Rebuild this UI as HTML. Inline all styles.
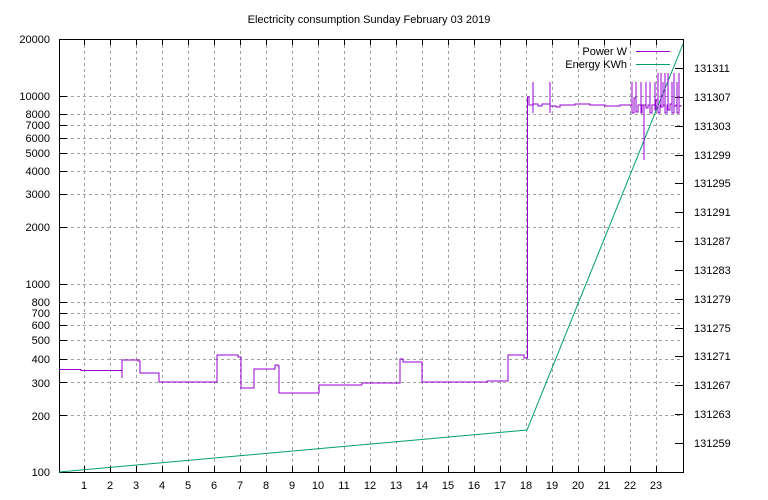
<!DOCTYPE html>
<html><head><meta charset="utf-8"><style>
html,body{margin:0;padding:0;background:#fff}
svg{display:block}
text{font-family:"Liberation Sans","DejaVu Sans",sans-serif;font-size:11px;fill:#000}
</style></head><body>
<svg width="768" height="500" viewBox="0 0 768 500">
<text x="369" y="23" text-anchor="middle">Electricity consumption Sunday February 03 2019</text>
<g stroke="#a0a0a0" stroke-width="1" stroke-dasharray="3,3" fill="none">
<path d="M84.5,39V472M110.5,39V472M136.5,39V472M162.5,39V472M188.5,39V472M214.5,39V472M240.5,39V472M266.5,39V472M292.5,39V472M318.5,39V472M344.5,39V472M370.5,39V472M396.5,39V472M422.5,39V472M448.5,39V472M474.5,39V472M500.5,39V472M526.5,39V472M552.5,39V472M578.5,39V472M604.5,39V472M630.5,39V472M656.5,39V472"/>
<path d="M59,415.5H683M59,382.5H683M59,359.5H683M59,340.5H683M59,325.5H683M59,313.5H683M59,302.5H683M59,284.5H683M59,227.5H683M59,194.5H683M59,171.5H683M59,153.5H683M59,138.5H683M59,125.5H683M59,114.5H683M59,96.5H683"/>
</g>
<rect x="59.5" y="39.5" width="624" height="433" fill="none" stroke="#000"/>
<g stroke="#000" fill="none">
<path d="M59,415.5h8M59,382.5h8M59,359.5h8M59,340.5h8M59,325.5h8M59,313.5h8M59,302.5h8M59,284.5h8M59,227.5h8M59,194.5h8M59,171.5h8M59,153.5h8M59,138.5h8M59,125.5h8M59,114.5h8M59,96.5h8"/>
<path d="M84.5,472v-6M110.5,472v-6M136.5,472v-6M162.5,472v-6M188.5,472v-6M214.5,472v-6M240.5,472v-6M266.5,472v-6M292.5,472v-6M318.5,472v-6M344.5,472v-6M370.5,472v-6M396.5,472v-6M422.5,472v-6M448.5,472v-6M474.5,472v-6M500.5,472v-6M526.5,472v-6M552.5,472v-6M578.5,472v-6M604.5,472v-6M630.5,472v-6M656.5,472v-6"/>
<path d="M84.5,39v6M110.5,39v6M136.5,39v6M162.5,39v6M188.5,39v6M214.5,39v6M240.5,39v6M266.5,39v6M292.5,39v6M318.5,39v6M344.5,39v6M370.5,39v6M396.5,39v6M422.5,39v6M448.5,39v6M474.5,39v6M500.5,39v6M526.5,39v6M552.5,39v6M578.5,39v6M604.5,39v6M630.5,39v6M656.5,39v6"/>
<path d="M683,443.5h-8M683,414.5h-8M683,385.5h-8M683,356.5h-8M683,328.5h-8M683,299.5h-8M683,270.5h-8M683,241.5h-8M683,212.5h-8M683,183.5h-8M683,155.5h-8M683,126.5h-8M683,97.5h-8M683,68.5h-8"/>
</g>
<g text-anchor="end">
<text x="50" y="476">100</text><text x="50" y="420">200</text><text x="50" y="387">300</text><text x="50" y="363">400</text><text x="50" y="344">500</text><text x="50" y="329">600</text><text x="50" y="317">700</text><text x="50" y="306">800</text><text x="50" y="288">1000</text><text x="50" y="231">2000</text><text x="50" y="198">3000</text><text x="50" y="175">4000</text><text x="50" y="157">5000</text><text x="50" y="142">6000</text><text x="50" y="129">7000</text><text x="50" y="118">8000</text><text x="50" y="100">10000</text><text x="50" y="43">20000</text>
</g>
<g text-anchor="middle">
<text x="84" y="489">1</text><text x="110" y="489">2</text><text x="136" y="489">3</text><text x="162" y="489">4</text><text x="188" y="489">5</text><text x="214" y="489">6</text><text x="240" y="489">7</text><text x="266" y="489">8</text><text x="292" y="489">9</text><text x="318" y="489">10</text><text x="344" y="489">11</text><text x="370" y="489">12</text><text x="396" y="489">13</text><text x="422" y="489">14</text><text x="448" y="489">15</text><text x="474" y="489">16</text><text x="500" y="489">17</text><text x="526" y="489">18</text><text x="552" y="489">19</text><text x="578" y="489">20</text><text x="604" y="489">21</text><text x="630" y="489">22</text><text x="656" y="489">23</text>
</g>
<g>
<text x="694" y="447">131259</text><text x="694" y="418">131263</text><text x="694" y="389">131267</text><text x="694" y="360">131271</text><text x="694" y="332">131275</text><text x="694" y="303">131279</text><text x="694" y="274">131283</text><text x="694" y="245">131287</text><text x="694" y="216">131291</text><text x="694" y="187">131295</text><text x="694" y="159">131299</text><text x="694" y="130">131303</text><text x="694" y="101">131307</text><text x="694" y="72">131311</text>
</g>
<path d="M59,472 L527,430 L683,44" fill="none" stroke="#009e73" stroke-width="1"/>
<path shape-rendering="crispEdges" d="M59,369.5H81V370.5H122V378V360H138V361H140V373H159V382H217V355H238V357H241V388H254V369H275V365H278V366H279V393H319V385H362V383H400V359H403V362H422V382H487V381H508V355H524V358H527.5V97H529V105H533V82V113V104H538V106H542V104H550V82V113V106H556V107H560V105H575V104H590V105H605V106H620V105H632
V82V113H634V98H636V82V112H638V105H641V82V113H642V105H644V128V160V105H646V82V108H648V105H650V82V113H652V105H655V82V110H656V100H658V73V113H660V105H661V73V107H663V82V105H665V73V113H667V105H668V73V110H670V104H672V82V113H674V73V106H676V105H677V82V113H679V73V106H681V105" fill="none" stroke="#9400d3" stroke-width="1"/>
<text x="627" y="55" text-anchor="end">Power W</text>
<line x1="636" y1="51.5" x2="670" y2="51.5" stroke="#9400d3"/>
<text x="627" y="68" text-anchor="end">Energy KWh</text>
<line x1="636" y1="64.5" x2="670" y2="64.5" stroke="#009e73"/>
</svg>
</body></html>
